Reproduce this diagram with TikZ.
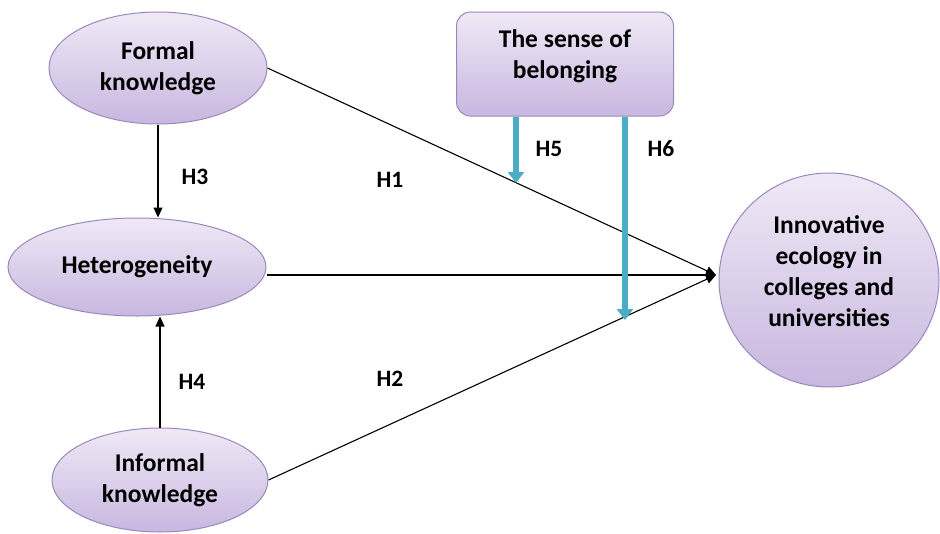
\documentclass[tikz,border=0pt]{standalone}
\usepackage{fontspec}
\setmainfont{Carlito}
\usetikzlibrary{shapes.geometric, arrows.meta}

\definecolor{boxtop}{HTML}{EFE9F6}
\definecolor{boxbot}{HTML}{C8B7DF}
\definecolor{boxline}{HTML}{9A88BD}
\definecolor{modblue}{HTML}{4BACC6}

\begin{document}
\begin{tikzpicture}[x=1pt, y=-1pt,
   var/.style={ellipse, draw=boxline, line width=1pt, top color=boxtop, bottom color=boxbot,
      inner sep=0pt, align=center, font=\bfseries\fontsize{25.5}{31}\selectfont},
   modbox/.style={rectangle, rounded corners=14pt, draw=boxline, line width=1pt,
      top color=boxtop, bottom color=boxbot, inner sep=0pt, align=center,
      font=\bfseries\fontsize{25.5}{31}\selectfont},
   link/.style={line width=1.1pt, -{Triangle[length=10pt, width=9pt]}},
   mod/.style={draw=modblue, line width=6pt, -{Triangle[length=11pt, width=16pt]}},
   hyp/.style={font=\bfseries\fontsize{23.5}{28}\selectfont}]
   \useasboundingbox (0, 0) rectangle (940, 533);
   % Constructs
   \node [var, minimum width=218, minimum height=112] (fk) at (158, 68) {Formal\\knowledge};
   \node [var, minimum width=258, minimum height=98] (het) at (137, 267) {Heterogeneity};
   \node [var, minimum width=216, minimum height=104] (ik) at (160, 480) {Informal\\knowledge};
   \node [modbox, minimum width=217, minimum height=104, text depth=20pt] (bel) at (565, 64)
      {The sense of\\belonging};
   \node [var, minimum width=220, minimum height=214, text depth=17pt] (ie) at (829, 280)
      {Innovative\\ecology in\\colleges and\\universities};
   % Paths
   \coordinate (tip) at (716, 275);
   \draw [link] (fk.east) -- (tip);
   \draw [link] (het.east |- tip) -- (tip);
   \draw [link] (ik.east) -- (tip);
   \draw [link] (fk.south) -- (fk.south |- het.north);
   \draw [link] (ik.north) -- (ik.north |- het.south);
   % Moderation
   \coordinate (h5) at (516, 183);
   \coordinate (h6) at (625, 320);
   \draw [mod] (bel.south -| h5) -- (h5);
   \draw [mod] (bel.south -| h6) -- (h6);
   % Labels
   \foreach \name/\x/\y in {H1/390/180, H2/390/379, H3/195/177, H4/192/382, H5/549/149, H6/661/149}
      \node [hyp] (\name) at (\x, \y) {\name};
\end{tikzpicture}
\end{document}
